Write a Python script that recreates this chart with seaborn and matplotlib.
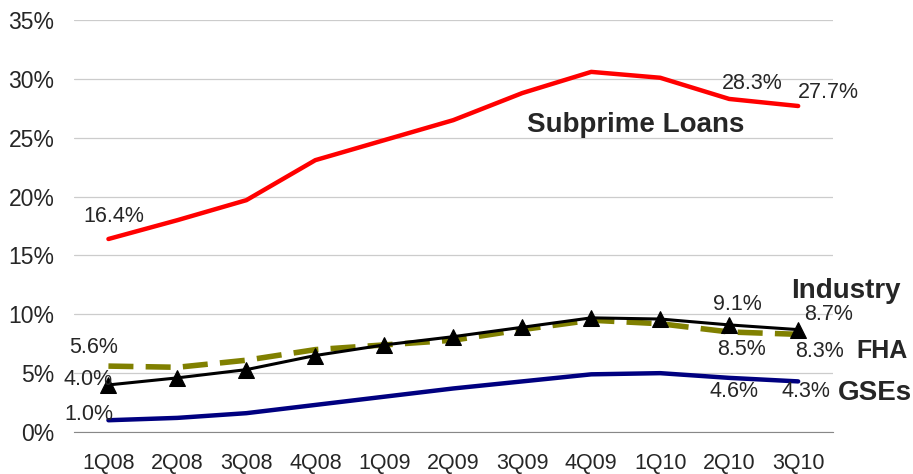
import numpy as np
import pandas as pd
import matplotlib
matplotlib.use("Agg")
import matplotlib.pyplot as plt
from matplotlib.ticker import FixedLocator, FuncFormatter
import seaborn as sns

# ── Data ───────────────────────────────────────────────────────────────────────
quarters = ["1Q08", "2Q08", "3Q08", "4Q08", "1Q09", "2Q09", "3Q09", "4Q09", "1Q10", "2Q10", "3Q10"]
subprime = [16.4, 18.0, 19.7, 23.1, 24.8, 26.5, 28.8, 30.6, 30.1, 28.3, 27.7]
industry = [4.0, 4.6, 5.3, 6.5, 7.4, 8.1, 8.9, 9.7, 9.6, 9.1, 8.7]
fha = [5.6, 5.5, 6.1, 7.0, 7.4, 7.8, 8.7, 9.5, 9.2, 8.5, 8.3]
gses = [1.0, 1.2, 1.6, 2.3, 3.0, 3.7, 4.3, 4.9, 5.0, 4.6, 4.3]

df = pd.DataFrame({"q": np.arange(len(quarters)), "Subprime": subprime,
                   "Industry": industry, "FHA": fha, "GSEs": gses})

sns.set_style("white")
plt.rcParams["font.family"] = ["Liberation Sans", "DejaVu Sans"]

fig = plt.figure(figsize=(9.13, 4.74), dpi=100)
ax = fig.add_axes([0.081, 0.0886, 0.831, 0.869])

sns.lineplot(data=df, x="q", y="Subprime", color="#FF0000", lw=3.2, ax=ax)
sns.lineplot(data=df, x="q", y="FHA", color="#808000", lw=4, ax=ax,
             dashes=False, linestyle=(0, (4.5, 2.2)))
sns.lineplot(data=df, x="q", y="Industry", color="black", lw=2.2, marker="^",
             markersize=11.5, markeredgecolor="black", ax=ax)
sns.lineplot(data=df, x="q", y="GSEs", color="#000080", lw=3.2, ax=ax)

ax.set_xlim(-0.5, len(quarters) - 0.5)
ax.set_ylim(0, 35)
ax.yaxis.set_major_locator(FixedLocator(range(0, 36, 5)))
ax.yaxis.set_major_formatter(FuncFormatter(lambda v, p: f"{v:.0f}%"))
ax.grid(axis="y", color="#CCCCCC", lw=0.9)
ax.set_axisbelow(True)

ax.set_xticks(range(len(quarters)))
ax.set_xticklabels(quarters)
ax.set_xticks(np.arange(-0.5, len(quarters)), minor=True)
ax.tick_params(axis="x", which="major", length=0, pad=15, labelsize=15.5)
ax.tick_params(axis="x", which="minor", length=6, color="#555555", width=1, direction="out")
ax.tick_params(axis="y", length=0, labelsize=16.5, pad=14)
ax.set_xlabel("")
ax.set_ylabel("")

for s in ["top", "right", "left"]:
    ax.spines[s].set_visible(False)
ax.spines["bottom"].set_color("#888888")

# ── Labels ─────────────────────────────────────────────────────────────────────
labels = [
    (0.08, 18.3, "16.4%"), (-0.21, 7.2, "5.6%"), (-0.30, 4.5, "4.0%"), (-0.28, 1.45, "1.0%"),
    (9.12, 10.8, "9.1%"), (10.44, 10.0, "8.7%"), (9.18, 7.05, "8.5%"), (10.31, 6.84, "8.3%"),
    (9.07, 3.4, "4.6%"), (10.11, 3.4, "4.3%"), (9.34, 29.6, "28.3%"), (10.44, 28.85, "27.7%"),
]
for x, y, t in labels:
    ax.text(x, y, t, fontsize=15.5, ha="center", va="center", clip_on=False)

names = [(10.69, 12.0, "Industry", 20), (11.21, 6.9, "FHA", 18), (11.11, 3.3, "GSEs", 20),
         (7.64, 26.1, "Subprime Loans", 20)]
for x, y, t, s in names:
    ax.text(x, y, t, fontsize=s, fontweight="bold", ha="center", va="center", clip_on=False)

plt.savefig("out.png", dpi=100)
